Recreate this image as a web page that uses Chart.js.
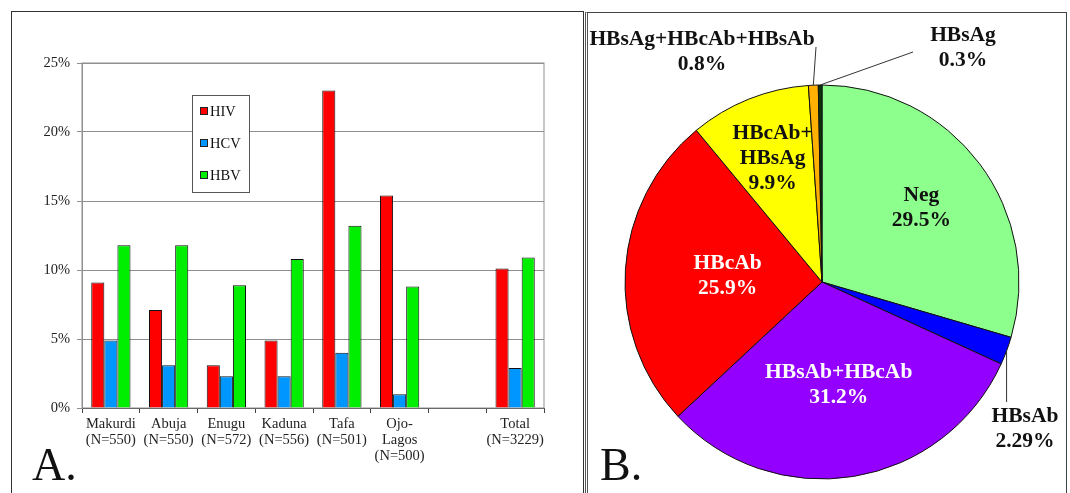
<!DOCTYPE html>
<html>
<head>
<meta charset="utf-8">
<script src="https://cdn.jsdelivr.net/npm/chart.js@4.4.1/dist/chart.umd.min.js"></script>
<style>
    html, body { margin: 0; padding: 0; background: #fff; }
    body { width: 1070px; height: 493px; position: relative; overflow: hidden; }
    .frame { position: absolute; box-sizing: border-box; }
    #frameA { left: 11px; top: 11px; width: 573px; height: 500px; border: 1.5px solid #333; }
    #frameB { left: 585px; top: 12px; width: 482px; height: 500px; border: 1.5px solid #444; border-left: 3px double #555; }
    .box { position: absolute; }
    #boxA { left: 12px; top: 12px; width: 570px; height: 481px; }
    #boxB { left: 588px; top: 14px; width: 477px; height: 479px; }
    .panel { position: absolute; font-family: 'Liberation Serif', 'Times New Roman', serif; font-size: 46px; line-height: 46px; color: #111; }
</style>
</head>
<body>
<div class="frame" id="frameA"></div>
<div class="frame" id="frameB"></div>
<div class="box" id="boxA"><canvas id="barChart"></canvas></div>
<div class="box" id="boxB"><canvas id="pieChart"></canvas></div>
<div class="panel" style="left:32px; top:442px;">A.</div>
<div class="panel" style="left:600px; top:442px;">B.</div>

<script>
// ── data ──
const sites = [
    ['Makurdi', '(N=550)'],
    ['Abuja', '(N=550)'],
    ['Enugu', '(N=572)'],
    ['Kaduna', '(N=556)'],
    ['Tafa', '(N=501)'],
    ['Ojo-', 'Lagos', '(N=500)'],
    '',
    ['Total', '(N=3229)']
];
const hivRate = [9.1, 7.1, 3.1, 4.9, 23.0, 15.4, null, 10.1];
const hcvRate = [4.9, 3.1, 2.3, 2.3, 4.0, 1.0, null, 2.9];
const hbvRate = [11.8, 11.8, 8.9, 10.8, 13.2, 8.8, null, 10.9];

const pieLabels = [
    ['Neg'],
    ['HBsAb'],
    ['HBsAb+HBcAb'],
    ['HBcAb'],
    ['HBcAb+', 'HBsAg'],
    ['HBsAg+HBcAb+HBsAb'],
    ['HBsAg']
];
const pieValues = [29.5, 2.29, 31.2, 25.9, 9.9, 0.8, 0.3];

const SERIF = "'Liberation Serif', 'Times New Roman', serif";
const RED   = '#ff0000';
const BLUE  = '#0096ff';
const GREEN = '#00ee00';
const GRID  = '#8f8f8f';

Chart.defaults.font.family = SERIF;
Chart.defaults.color = '#222';

// ── Bar chart helpers ──
const plotFrame = {
    id: 'plotFrame',
    beforeDatasetsDraw(chart) {
        const { ctx, chartArea: a } = chart;
        ctx.save();
        ctx.strokeStyle = GRID;
        ctx.lineWidth = 1;
        ctx.strokeRect(a.left, a.top, a.right - a.left, a.bottom - a.top);
        ctx.restore();
    }
};

const legendBox = {
    id: 'legendBox',
    afterDraw(chart) {
        const { ctx, chartArea } = chart;
        const x = Math.round(chartArea.left + 110), y = Math.round(chartArea.top + 32);
        ctx.save();
        ctx.fillStyle = '#fff';
        ctx.fillRect(x, y, 57, 97);
        ctx.strokeStyle = '#555';
        ctx.lineWidth = 1;
        ctx.strokeRect(x + 0.5, y + 0.5, 57, 97);
        ctx.font = '14.5px ' + SERIF;
        ctx.textBaseline = 'middle';
        chart.data.datasets.forEach((ds, i) => {
            const cy = y + 16 + i * 32;
            ctx.fillStyle = ds.backgroundColor;
            ctx.fillRect(x + 8, cy - 4, 8, 8);
            ctx.strokeStyle = '#222';
            ctx.strokeRect(x + 8.5, cy - 3.5, 7, 7);
            ctx.fillStyle = '#111';
            ctx.fillText(ds.label, x + 18, cy + 1);
        });
        ctx.restore();
    }
};

// ── Bar Chart ──
new Chart(document.getElementById('barChart'), {
    type: 'bar',
    data: {
        labels: sites,
        datasets: [
            { label: 'HIV', data: hivRate, backgroundColor: RED },
            { label: 'HCV', data: hcvRate, backgroundColor: BLUE },
            { label: 'HBV', data: hbvRate, backgroundColor: GREEN }
        ]
    },
    options: {
        responsive: true,
        maintainAspectRatio: false,
        animation: false,
        layout: { padding: { top: 51, right: 38, left: 0, bottom: 0 } },
        datasets: {
            bar: { categoryPercentage: 0.68, barPercentage: 1.0, borderColor: '#111', borderWidth: 1 }
        },
        plugins: { legend: { display: false }, tooltip: { enabled: false } },
        scales: {
            x: {
                offset: true,
                grid: { offset: true, drawOnChartArea: false, tickLength: 5, color: '#444' },
                border: { color: '#444' },
                ticks: { autoSkip: false, maxRotation: 0, padding: 3, color: '#222',
                         font: { size: 14.5, lineHeight: 1.12 } },
                afterFit(scale) { scale.height = 85; }
            },
            y: {
                min: 0,
                max: 25,
                grid: { color: GRID, tickLength: 5 },
                border: { color: GRID },
                ticks: { stepSize: 5, padding: 7, color: '#222', font: { size: 14.5 },
                         callback: v => v + '%' },
                afterFit(scale) { scale.width = 70; }
            }
        }
    },
    plugins: [plotFrame, legendBox]
});

// ── Pie label placement: inside labels use a radius fraction,
//    outside labels sit at an offset from the centre with a leader line ──
const pieLabelLayout = [
    { r: 0.63, color: '#111' },
    { dx: 203, dy: 147, lead: 'down', color: '#111' },
    { r: 0.53, color: '#fff' },
    { r: 0.48, color: '#fff' },
    { r: 0.675, color: '#111' },
    { dx: -120, dy: -230, lead: [114, -5], color: '#111' },
    { dx: 141, dy: -234, lead: [-50, 4], color: '#111' }
];

const pieText = {
    id: 'pieText',
    afterDatasetsDraw(chart) {
        const { ctx } = chart;
        const arcs = chart.getDatasetMeta(0).data;
        const LH = 25;
        ctx.save();
        ctx.font = 'bold 21.5px ' + SERIF;
        ctx.textAlign = 'center';
        ctx.textBaseline = 'middle';
        arcs.forEach((arc, i) => {
            const { x, y, startAngle, endAngle, outerRadius } = arc.getProps(['x', 'y', 'startAngle', 'endAngle', 'outerRadius'], true);
            const mid = (startAngle + endAngle) / 2;
            const L = pieLabelLayout[i];
            let lx, ly;
            if (L.r !== undefined) {
                lx = x + Math.cos(mid) * outerRadius * L.r;
                ly = y + Math.sin(mid) * outerRadius * L.r;
            } else {
                lx = x + L.dx;
                ly = y + L.dy;
                const ex = x + Math.cos(mid) * outerRadius;
                const ey = y + Math.sin(mid) * outerRadius;
                ctx.strokeStyle = '#333';
                ctx.lineWidth = 1;
                ctx.beginPath();
                ctx.moveTo(ex, ey);
                if (L.lead === 'down') ctx.lineTo(ex, ly - 27);
                else ctx.lineTo(lx + L.lead[0], ly + L.lead[1]);
                ctx.stroke();
            }
            const lines = pieLabels[i].concat([pieValues[i] + '%']);
            ctx.fillStyle = L.color;
            const top = ly - (lines.length - 1) * LH / 2;
            lines.forEach((t, k) => ctx.fillText(t, lx, top + k * LH));
        });
        ctx.restore();
    }
};

// ── Pie Chart ──
new Chart(document.getElementById('pieChart'), {
    type: 'pie',
    data: {
        labels: pieLabels,
        datasets: [{
            data: pieValues,
            backgroundColor: ['#8cff8c', '#0000ff', '#9400ff', '#ff0000', '#ffff00', '#ffb000', '#0b360b'],
            borderColor: '#111',
            borderWidth: 1
        }]
    },
    options: {
        responsive: true,
        maintainAspectRatio: false,
        animation: false,
        radius: 197,
        layout: { padding: { left: 36, top: 70, right: 45, bottom: 13 } },
        plugins: { legend: { display: false }, tooltip: { enabled: false } }
    },
    plugins: [pieText]
});
</script>
</body>
</html>
